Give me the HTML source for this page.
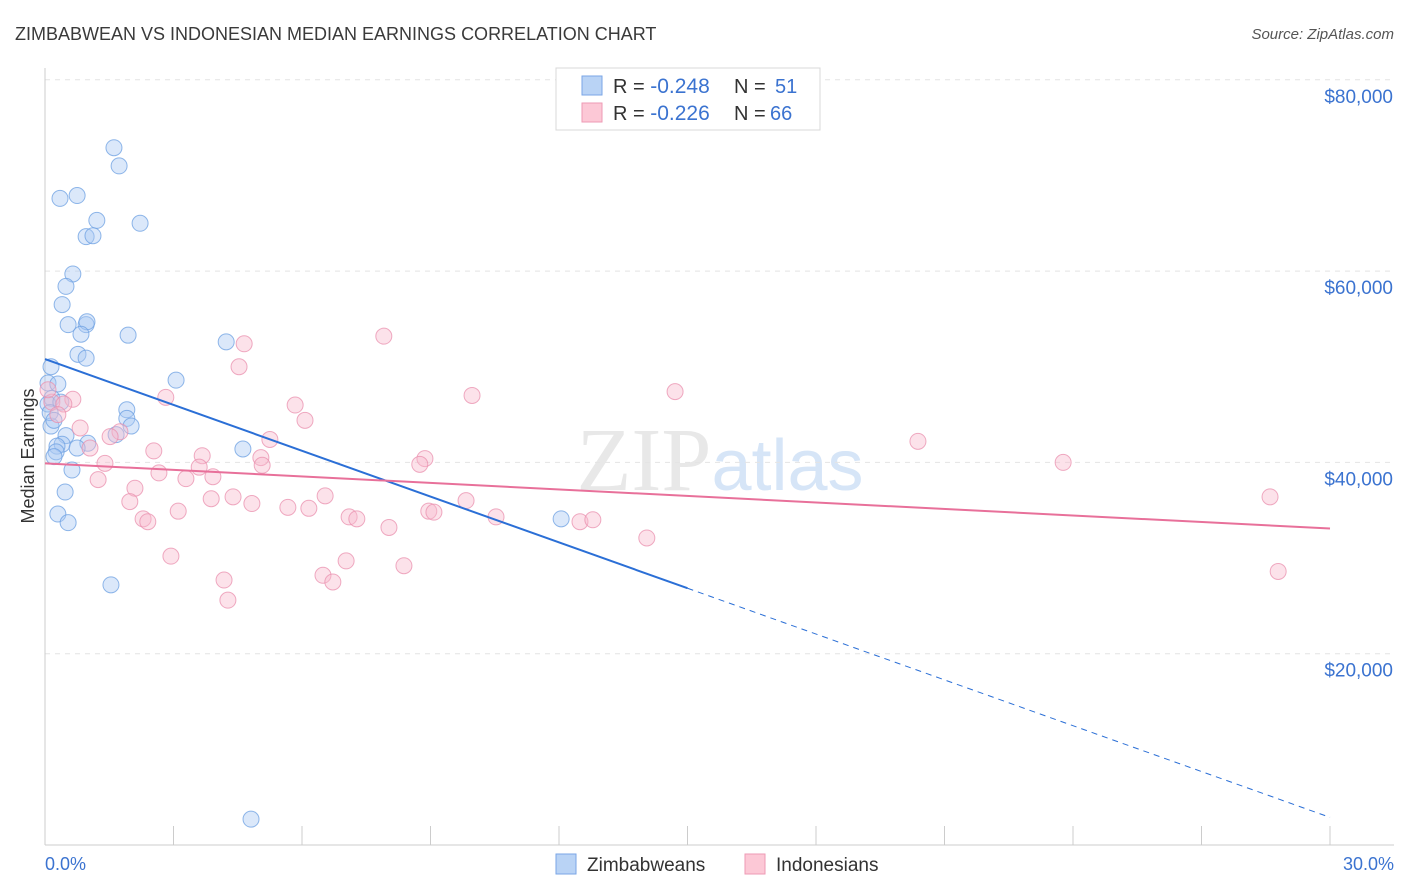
<!DOCTYPE html>
<html><head><meta charset="utf-8"><style>
body{margin:0;background:#fff;font-family:"Liberation Sans",sans-serif;}
svg{display:block}
</style></head><body>
<svg id="chart" width="1406" height="892" xmlns="http://www.w3.org/2000/svg" font-family="Liberation Sans, sans-serif">
<text x="15" y="40" font-size="18" fill="#3a3a3a">ZIMBABWEAN VS INDONESIAN MEDIAN EARNINGS CORRELATION CHART</text>
<text x="1394" y="39" font-size="15" fill="#555" font-style="italic" text-anchor="end">Source: ZipAtlas.com</text>
<text x="720" y="490" font-size="90" text-anchor="middle" fill="#e8e8e8" font-family="Liberation Serif, serif">ZIP<tspan fill="#d6e5f7" font-family="Liberation Sans, sans-serif" font-size="72">atlas</tspan></text>
<g id="grid"></g>
<g id="axes"></g>
<g id="pts"></g>
<g id="lines"></g>
<text transform="translate(34,456) rotate(-90)" font-size="18" fill="#333" text-anchor="middle">Median Earnings</text>
<text x="45" y="870" font-size="18" fill="#3b73d0">0.0%</text>
<text x="1394" y="870" font-size="18" fill="#3b73d0" text-anchor="end">30.0%</text>
<g>
<rect x="556" y="68" width="264" height="62" fill="#fff" stroke="#d8d8d8"/>
<rect x="582" y="76" width="20" height="19" fill="#b9d3f5" stroke="#7aa6e6"/>
<rect x="582" y="103" width="20" height="19" fill="#fcc8d6" stroke="#ee9ab4"/>
<text x="613" y="93" font-size="20" fill="#333">R = <tspan fill="#3b73d0" font-size="21">-0.248</tspan><tspan x="734">N = </tspan><tspan fill="#3b73d0" x="775">51</tspan></text>
<text x="613" y="120" font-size="20" fill="#333">R = <tspan fill="#3b73d0" font-size="21">-0.226</tspan><tspan x="734">N = </tspan><tspan fill="#3b73d0" x="770">66</tspan></text>
</g>
<g>
<rect x="556" y="854" width="20" height="20" fill="#b9d3f5" stroke="#7aa6e6"/>
<text x="587" y="871" font-size="19" fill="#333">Zimbabweans</text>
<rect x="745" y="854" width="20" height="20" fill="#fcc8d6" stroke="#ee9ab4"/>
<text x="776" y="871" font-size="19" fill="#333">Indonesians</text>
</g>
</svg>
<script>
const yTicks=[20000,40000,60000,80000];
const yTickLabels=["$20,000","$40,000","$60,000","$80,000"];
const blueX=[1.61,1.73,0.35,0.75,1.21,2.22,0.96,1.12,0.65,0.49,0.40,0.54,0.96,0.98,1.94,0.84,0.77,0.96,4.23,0.14,0.07,0.30,3.06,0.16,0.07,1.91,1.91,2.01,0.14,0.49,0.40,1.00,0.28,0.75,0.26,4.62,0.63,0.47,0.30,0.54,12.05,1.54,4.81,0.12,0.21,1.66,0.37,0.21];
const blueY=[72.9,71.0,67.6,67.9,65.3,65.0,63.6,63.7,59.7,58.4,56.5,54.4,54.4,54.7,53.3,53.4,51.3,50.9,52.6,50.0,48.3,48.2,48.6,46.7,46.1,45.5,44.6,43.8,43.8,42.8,41.9,42.0,41.7,41.5,41.1,41.4,39.2,36.9,34.6,33.7,34.1,27.2,2.7,45.2,44.4,42.9,46.3,40.6];
const pinkX=[7.91,4.65,4.53,14.71,9.97,2.82,0.65,0.16,0.44,0.30,5.84,6.07,0.82,1.75,1.52,5.25,20.38,1.05,2.54,3.67,5.04,5.07,23.77,8.87,8.75,1.40,3.60,2.66,3.29,3.92,1.24,2.10,4.39,3.88,4.83,1.98,6.54,9.83,5.67,6.16,28.60,3.11,8.96,9.08,10.53,7.10,7.28,2.29,2.40,8.03,12.49,12.79,14.05,2.94,7.03,8.38,6.49,6.72,4.18,4.27,28.79,0.07];
const pinkY=[53.2,52.4,50.0,47.4,47.0,46.8,46.6,46.3,46.1,45.0,46.0,44.4,43.6,43.2,42.7,42.4,42.2,41.5,41.2,40.7,40.5,39.7,40.0,40.4,39.8,39.9,39.5,38.9,38.3,38.5,38.2,37.3,36.4,36.2,35.7,35.9,36.5,36.0,35.3,35.2,36.4,34.9,34.9,34.8,34.3,34.3,34.1,34.1,33.8,33.2,33.8,34.0,32.1,30.2,29.7,29.2,28.2,27.5,27.7,25.6,28.6,47.6];
const blueTrend=[50.8,-1.597];
const pinkTrend=[39.9,-0.227];
const NS="http://www.w3.org/2000/svg";
const X=v=>45+v/30*1285;
const Y=v=>845-v/20*191.3;
function mk(tag,attrs,parent){const e=document.createElementNS(NS,tag);for(const k in attrs)e.setAttribute(k,attrs[k]);parent.appendChild(e);return e;}
const grid=document.getElementById('grid'),axes=document.getElementById('axes'),pts=document.getElementById('pts'),lines=document.getElementById('lines');
yTicks.forEach((t,i)=>{const y=Y(t/1000);
const l=mk('line',{x1:45,x2:1394,y1:y,y2:y,stroke:'#e4e4e4','stroke-dasharray':'5,5'},grid);


const tx=mk('text',{x:1393,y:y+23,'font-size':19,fill:'#3b73d0','text-anchor':'end'},grid);tx.textContent=yTickLabels[i];

});
mk('line',{x1:45,x2:45,y1:68,y2:845,stroke:'#ccc'},axes);
mk('line',{x1:45,x2:1394,y1:845,y2:845,stroke:'#ccc'},axes);
for(let i=0;i<=10;i++){const x=X(i*3);const t=mk('line',{x1:x,x2:x,y1:826,y2:845,stroke:'#ccc'},axes);

}
function dots(xs,ys,fill,stroke,name){xs.forEach((v,i)=>{const c=mk('circle',{cx:X(v),cy:Y(ys[i]),r:8,fill:fill,'fill-opacity':0.42,stroke:stroke,'stroke-opacity':0.75,'stroke-width':1},pts);

});}
dots(blueX,blueY,'#a9c9f2','#6b9fe2','zimbabwean-point');
dots(pinkX,pinkY,'#f7b9cd','#ea8fae','indonesian-point');
const b0=blueTrend[0],b1=blueTrend[1];
const l1=mk('line',{x1:X(0),y1:Y(b0),x2:X(15),y2:Y(b0+b1*15),stroke:'#2b6fd6','stroke-width':2},lines);


const l2=mk('line',{x1:X(15),y1:Y(b0+b1*15),x2:X(30),y2:Y(b0+b1*30),stroke:'#2b6fd6','stroke-width':1,'stroke-dasharray':'6,5'},lines);


const l3=mk('line',{x1:X(0),y1:Y(pinkTrend[0]),x2:X(30),y2:Y(pinkTrend[0]+pinkTrend[1]*30),stroke:'#e8709a','stroke-width':2},lines);


</script>
</body></html>
